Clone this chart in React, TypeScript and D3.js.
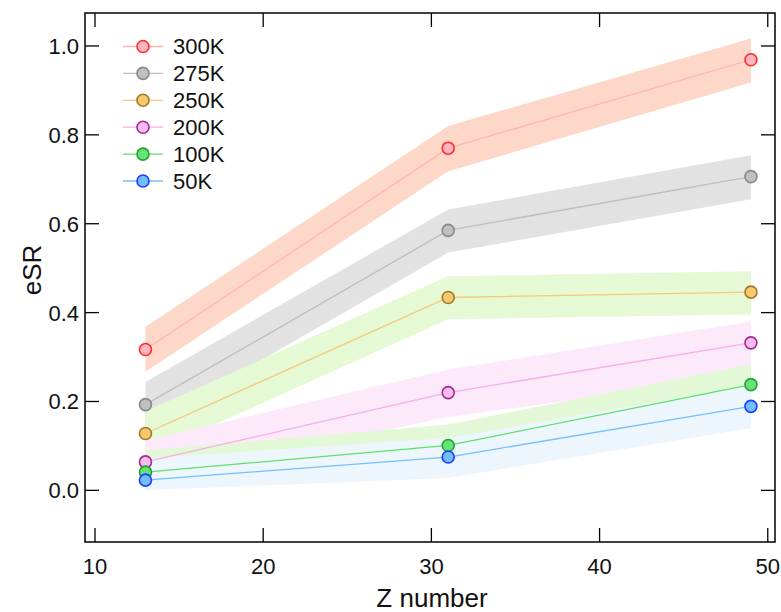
import React from "react";
import * as d3 from "d3";

const zNumbers = [13, 31, 49];
const seriesNames = ["300K", "275K", "250K", "200K", "100K", "50K"];
const values300 = [0.317, 0.77, 0.969];
const values275 = [0.193, 0.585, 0.706];
const values250 = [0.128, 0.434, 0.446];
const values200 = [0.064, 0.22, 0.332];
const values100 = [0.041, 0.101, 0.238];
const values50 = [0.023, 0.075, 0.189];
const lower300 = [0.267, 0.718, 0.918];
const upper300 = [0.368, 0.82, 1.017];
const lower275 = [0.143, 0.535, 0.655];
const upper275 = [0.244, 0.632, 0.754];
const lower250 = [0.078, 0.385, 0.396];
const upper250 = [0.178, 0.482, 0.493];
const lower200 = [0.02, 0.165, 0.258];
const upper200 = [0.112, 0.272, 0.38];
const lower100 = [0.0, 0.055, 0.19];
const upper100 = [0.09, 0.148, 0.284];
const lower50 = [0.0, 0.028, 0.14];
const upper50 = [0.072, 0.118, 0.236];
const xTicks = [10, 20, 30, 40, 50];
const yTicks = [0.0, 0.2, 0.4, 0.6, 0.8, 1.0];

const W = 781;
const H = 612;
const left = 85, right = 775, top = 13, bottom = 542;

const styles = [
  { line: "#ffb4b4", fill: "#ffb6c0", stroke: "#ff2a2a", band: "#fdd8c8" },
  { line: "#bdbdbd", fill: "#c0c0c0", stroke: "#8a8a8a", band: "#e2e2e2" },
  { line: "#f6c87c", fill: "#f8c86c", stroke: "#a3782a", band: "#e5f9d4" },
  { line: "#f5aee8", fill: "#f8bbee", stroke: "#a42a93", band: "#fceafb" },
  { line: "#5fe06a", fill: "#66e376", stroke: "#22a335", band: "#e3f8d6" },
  { line: "#74c0ff", fill: "#72bdff", stroke: "#1a3cff", band: "#eef6fd" },
];

export default function App() {
  const x = d3.scaleLinear().domain([9.405, 50.43]).range([left, right]);
  const y = d3.scaleLinear().domain([-0.1162, 1.0742]).range([bottom, top]);

  const vals = [values300, values275, values250, values200, values100, values50];
  const lows = [lower300, lower275, lower250, lower200, lower100, lower50];
  const highs = [upper300, upper275, upper250, upper200, upper100, upper50];

  const line = d3
    .line<number>()
    .x((_, i) => x(zNumbers[i]))
    .y((d) => y(d));

  const font = "'Liberation Sans', Arial, Helvetica, sans-serif";
  const tickLen = 14;

  return (
    <svg
      width={W}
      height={H}
      style={{ position: "absolute", left: 0, top: 0, background: "#fff" }}
      fontFamily={font}
    >
      {seriesNames.map((name, k) => {
        const a = d3
          .area<number>()
          .x((_, i) => x(zNumbers[i]))
          .y0((_, i) => y(lows[k][i]))
          .y1((_, i) => y(highs[k][i]));
        return <path key={"band" + name} d={a(vals[k]) || ""} fill={styles[k].band} />;
      })}
      {seriesNames.map((name, k) => (
        <path
          key={"line" + name}
          d={line(vals[k]) || ""}
          fill="none"
          stroke={styles[k].line}
          strokeWidth={1.3}
        />
      ))}
      {seriesNames.map((name, k) =>
        vals[k].map((v, i) => (
          <circle
            key={"pt" + name + i}
            cx={x(zNumbers[i])}
            cy={y(v)}
            r={6}
            fill={styles[k].fill}
            stroke={styles[k].stroke}
            strokeWidth={1.6}
          />
        ))
      )}
      <rect
        x={left}
        y={top}
        width={right - left}
        height={bottom - top}
        fill="none"
        stroke="#000"
        strokeWidth={1.5}
      />
      {xTicks.map((t) => (
        <g key={"xt" + t}>
          <line x1={x(t)} x2={x(t)} y1={bottom} y2={bottom - tickLen} stroke="#000" strokeWidth={1.3} />
          <line x1={x(t)} x2={x(t)} y1={top} y2={top + tickLen} stroke="#000" strokeWidth={1.3} />
          <text x={x(t)} y={574} textAnchor="middle" fontSize={22} fill="#111">
            {t}
          </text>
        </g>
      ))}
      {yTicks.map((t) => (
        <g key={"yt" + t}>
          <line x1={left} x2={left + tickLen} y1={y(t)} y2={y(t)} stroke="#000" strokeWidth={1.3} />
          <line x1={right} x2={right - tickLen} y1={y(t)} y2={y(t)} stroke="#000" strokeWidth={1.3} />
          <text x={79} y={y(t)} dy="0.36em" textAnchor="end" fontSize={22} fill="#111">
            {t.toFixed(1)}
          </text>
        </g>
      ))}
      <text x={432} y={607} textAnchor="middle" fontSize={26} fill="#111">
        Z number
      </text>
      <text
        transform={`translate(41, 270) rotate(-90)`}
        textAnchor="middle"
        fontSize={26}
        fill="#111"
      >
        eSR
      </text>
      {seriesNames.map((name, k) => {
        const ly = 46.5 + k * 26.9;
        return (
          <g key={"lg" + name}>
            <line x1={123} x2={163} y1={ly} y2={ly} stroke={styles[k].line} strokeWidth={1.3} />
            <circle cx={143} cy={ly} r={6} fill={styles[k].fill} stroke={styles[k].stroke} strokeWidth={1.6} />
            <text x={173} y={ly} dy="0.36em" fontSize={22} fill="#111">
              {name}
            </text>
          </g>
        );
      })}
    </svg>
  );
}
